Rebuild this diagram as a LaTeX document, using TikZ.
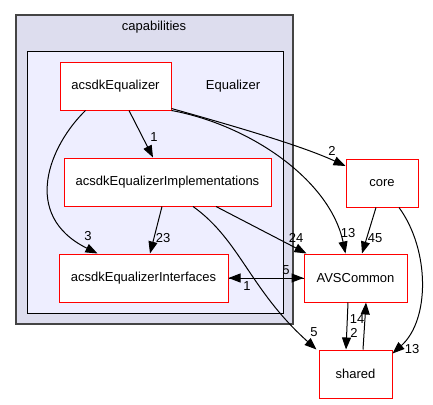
\documentclass[tikz,border=0pt]{standalone}
\usepackage{fontspec}
\setmainfont{Liberation Sans}
\usepackage{tikz}
\usetikzlibrary{shapes, positioning}
\usetikzlibrary{calc}
\usetikzlibrary{arrows.meta}
\definecolor{outerfill}{HTML}{DDDDEE}
\definecolor{innerfill}{HTML}{EEEEFF}
\definecolor{outerline}{HTML}{444444}
\begin{document}
\begin{tikzpicture}[x=1pt, y=-1pt,
		font=\fontsize{13}{15}\selectfont,
		dirbox/.style={draw=red, fill=white, line width=1pt, inner sep=0pt},
		dep/.style={line width=1pt, -{Triangle[length=12pt, width=9pt]}},
		lbl/.style={inner sep=0pt}]
		\useasboundingbox (0,0) rectangle (433,404);
		% clusters
		\draw[outerline, fill=outerfill, line width=1.3pt] (16,15) rectangle (293,324);
		\draw[black, fill=innerfill, line width=1pt] (27,52) rectangle (283,313);
		\node (capt) at (154,27) {capabilities};
		\node (eqlbl) at (233,86) {Equalizer};
		% directories
		\node[dirbox, minimum width=111, minimum height=48] (eq) at (115.5,86) {acsdkEqualizer};
		\node[dirbox, minimum width=207, minimum height=48] (impl) at (167.5,182) {acsdkEqualizerImplementations};
		\node[dirbox, minimum width=169, minimum height=48] (intf) at (143.5,278) {acsdkEqualizerInterfaces};
		\node[dirbox, minimum width=103, minimum height=48] (avs) at (355.5,278) {AVSCommon};
		\node[dirbox, minimum width=73, minimum height=48] (shared) at (355.5,374) {shared};
		\node[dirbox, minimum width=72, minimum height=48] (core) at (382,183) {core};
		% dependencies
		\draw[dep] ([xshift=13.5]eq.south) -- ([xshift=-14.5]impl.north) node[lbl] at (154,137) {1};
		\draw[dep] ([xshift=-30]eq.south) .. controls (50,145) and (20,215) .. ([xshift=-46]intf.north) node[lbl] at (88,236) {3};
		\draw[dep] ([yshift=2]eq.south east) .. controls (230,125) and (300,145) .. ([yshift=17]core.west) node[lbl] at (332,151) {2};
		\draw[dep] (eq.south east) .. controls (250,125) and (330,180) .. ([xshift=-10]avs.north) node[lbl] at (348,233) {13};
		\draw[dep] ([xshift=-5.5]impl.south) -- ([xshift=6.5]intf.north) node[lbl] at (163,238) {23};
		\draw[dep] ([xshift=48.5]impl.south) -- ([xshift=3]avs.north west) node[lbl] at (296,238) {24};
		\draw[dep] ([xshift=25.5]impl.south) .. controls (240,240) and (250,290) .. ([xshift=-2]shared.north west) node[lbl] at (314,332) {5};
		\draw[dep] (intf.east) -- (avs.west) node[lbl] at (286,270) {5};
		\draw[dep] (avs.west) -- (intf.east) node[lbl] at (247,286) {1};
		\draw[dep] ([xshift=-6]core.south) -- ([xshift=6.5]avs.north) node[lbl] at (375,238) {45};
		\draw[dep] ([xshift=17]core.south) .. controls (430,250) and (430,320) .. ([yshift=-4]shared.north east) node[lbl] at (412,349) {13};
		\draw[dep] ([xshift=-7.5]avs.south) -- ([xshift=-9.5]shared.north) node[lbl] at (354,333) {2};
		\draw[dep] ([xshift=7.5]shared.north) -- ([xshift=10.5]avs.south) node[lbl] at (357,319) {14};
	\end{tikzpicture}
\end{document}
